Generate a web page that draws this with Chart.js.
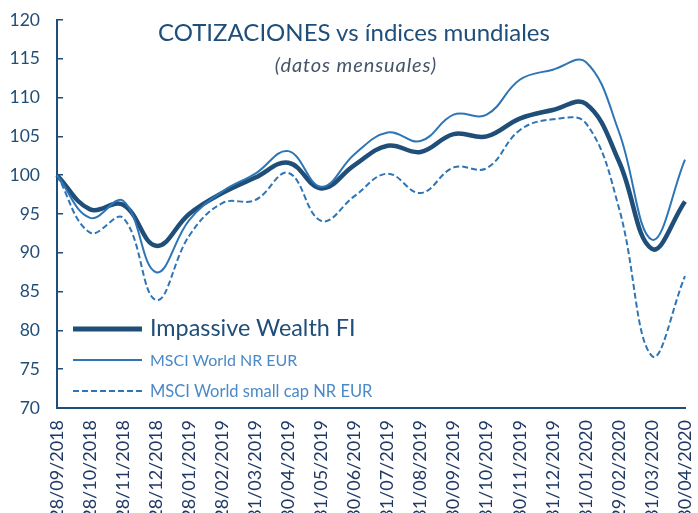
<!DOCTYPE html>
<html>
<head>
<meta charset="utf-8">
<script src="https://cdn.jsdelivr.net/npm/chart.js@4.4.1/dist/chart.umd.min.js"></script>
<style>
  html, body { margin: 0; padding: 0; background: #ffffff; }
  #wrap { position: relative; width: 698px; height: 513px; overflow: hidden; font-family: Lato, "Open Sans", sans-serif; }
  #chart { position: absolute; left: 0; top: 0; }
  .txt { position: absolute; line-height: 1; white-space: nowrap; }
  #title { left: 0; width: 708px; text-align: center; top: 20px; font-size: 24px; color: #1F4E79; }
  #subtitle { left: 0; width: 712px; text-align: center; top: 54px; font-size: 20px; letter-spacing: 0.9px; font-style: italic; color: #44546A; }
  .lg { position: absolute; left: 73px; }
</style>
</head>
<body>
<div id="wrap">
  <canvas id="chart" width="698" height="513"></canvas>
  <div id="title" class="txt">COTIZACIONES vs índices mundiales</div>
  <div id="subtitle" class="txt">(datos mensuales)</div>
  <svg class="lg" style="top:320px" width="70" height="18"><line x1="0" y1="9" x2="69" y2="9" stroke="#1F4E79" stroke-width="5"/></svg>
  <svg class="lg" style="top:351px" width="70" height="18"><line x1="0" y1="9" x2="69" y2="9" stroke="#2E75B6" stroke-width="2"/></svg>
  <svg class="lg" style="top:382px" width="70" height="18"><line x1="0" y1="9" x2="69" y2="9" stroke="#2E75B6" stroke-width="2" stroke-dasharray="6,3"/></svg>
  <div id="lg1" class="txt" style="left:150px; top:316px; font-size:23.4px; color:#1F4E79;"></div>
  <div id="lg2" class="txt" style="left:150px; top:352px; font-size:16px; color:#4A89C8;"></div>
  <div id="lg3" class="txt" style="left:150px; top:383px; font-size:16.5px; color:#4A89C8;"></div>
</div>
<script>
const seriesNames = ['Impassive Wealth FI', 'MSCI World NR EUR', 'MSCI World small cap NR EUR'];
const dates = ['28/09/2018','28/10/2018','28/11/2018','28/12/2018','28/01/2019','28/02/2019','31/03/2019','30/04/2019','31/05/2019','30/06/2019','31/07/2019','31/08/2019','30/09/2019','31/10/2019','30/11/2019','31/12/2019','31/01/2020','29/02/2020','31/03/2020','30/04/2020'];
const impassive = [100, 95.6, 96.2, 90.9, 95.0, 97.7, 99.7, 101.6, 98.3, 101.3, 103.8, 103.0, 105.3, 105.0, 107.3, 108.4, 109.2, 101.8, 90.5, 96.6];
const msciWorld = [100, 94.5, 96.7, 87.5, 94.2, 97.9, 100.2, 103.1, 98.5, 102.7, 105.5, 104.4, 107.8, 107.8, 112.3, 113.6, 114.6, 105.6, 91.7, 102.0];
const msciSmall = [100, 92.6, 94.5, 83.9, 92.2, 96.4, 96.8, 100.3, 94.1, 97.3, 100.2, 97.7, 101.0, 100.9, 105.8, 107.2, 106.7, 95.8, 76.7, 87.0];
const yMin = 70, yMax = 120, yStep = 5;

document.getElementById('lg1').textContent = seriesNames[0];
document.getElementById('lg2').textContent = seriesNames[1];
document.getElementById('lg3').textContent = seriesNames[2];

const axisColor = '#1F4E79';

new Chart(document.getElementById('chart'), {
  type: 'line',
  data: {
    labels: dates,
    datasets: [
      { label: seriesNames[2], data: msciSmall, borderColor: '#2E75B6', borderWidth: 2, borderDash: [6, 3], pointRadius: 0, tension: 0.4, fill: false },
      { label: seriesNames[1], data: msciWorld, borderColor: '#2E75B6', borderWidth: 2, pointRadius: 0, tension: 0.4, fill: false },
      { label: seriesNames[0], data: impassive, borderColor: '#1F4E79', borderWidth: 4.5, pointRadius: 0, tension: 0.4, fill: false }
    ]
  },
  options: {
    responsive: false,
    animation: false,
    events: [],
    layout: { padding: { top: 20, right: 13, left: 0, bottom: 0 } },
    plugins: { legend: { display: false }, title: { display: false }, tooltip: { enabled: false } },
    scales: {
      x: {
        offset: false,
        grid: { display: false, drawTicks: false },
        border: { display: true, color: axisColor, width: 2 },
        ticks: { autoSkip: false, maxRotation: 90, minRotation: 90, padding: 12, color: '#1F3864', font: { family: 'Lato', size: 18 } },
        afterFit: (s) => { s.height = 105; s.paddingLeft = 0; s.paddingRight = 0; }
      },
      y: {
        min: yMin, max: yMax,
        grid: { display: true, drawOnChartArea: false, drawTicks: true, tickLength: -6, color: axisColor, lineWidth: 1.5 },
        border: { display: true, color: axisColor, width: 2 },
        ticks: { stepSize: yStep, padding: 23, color: '#1F4E79', font: { family: 'Lato', size: 17.5 } },
        afterFit: (s) => { s.width = 57; s.paddingTop = 0; s.paddingBottom = 0; }
      }
    }
  }
});
</script>
</body>
</html>
